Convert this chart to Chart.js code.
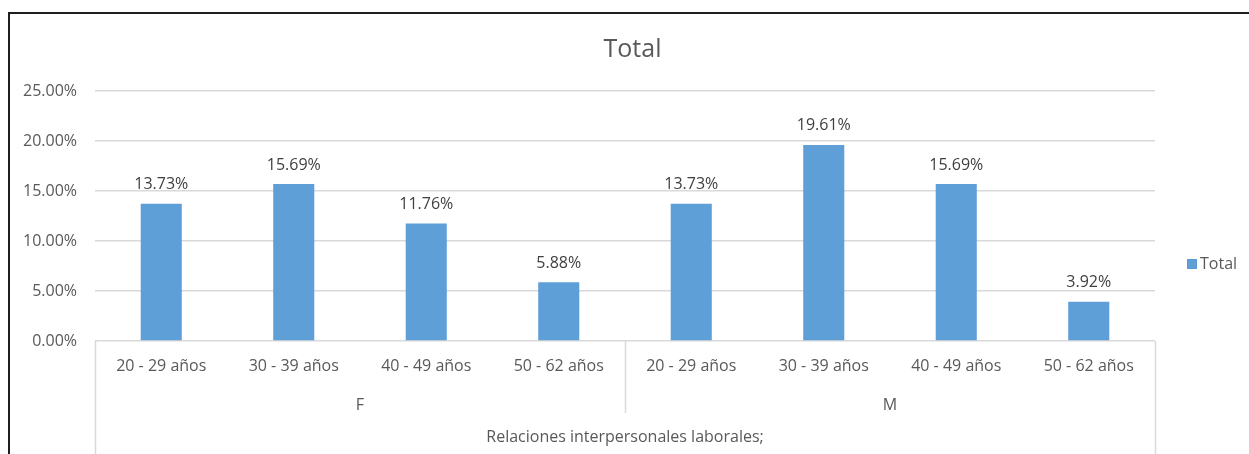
<!DOCTYPE html>
<html>
<head>
<meta charset="utf-8">
<script src="https://cdn.jsdelivr.net/npm/chart.js@4"></script>
<style>
  html, body { margin: 0; padding: 0; background: #fff; }
  #wrap { position: relative; width: 1249px; height: 454px; }
  #frame { position: absolute; left: 8px; top: 12px; right: 0; bottom: 0;
           border-top: 2px solid #1e1e1e; border-left: 2px solid #1e1e1e; pointer-events: none; }
</style>
</head>
<body>
<div id="wrap">
  <canvas id="chart" width="1249" height="454"></canvas>
  <div id="frame"></div>
</div>
<script>
const ageLabels = ['20 - 29 años', '30 - 39 años', '40 - 49 años', '50 - 62 años',
                   '20 - 29 años', '30 - 39 años', '40 - 49 años', '50 - 62 años'];
const groupLabels = ['F', 'M'];
const groupSize = 4;
const outerLabel = 'Relaciones interpersonales laborales;';
const totalValues = [13.73, 15.69, 11.76, 5.88, 13.73, 19.61, 15.69, 3.92];
const seriesName = 'Total';
const yTicks = [0, 5, 10, 15, 20, 25];

const FONT = '"Open Sans", sans-serif';
const TEXT = '#595959';
const GRID = '#d9d9d9';
const BAR = '#5f9fd8';

const extras = {
    id: 'extras',
    afterDatasetsDraw(chart) {
        const ctx = chart.ctx;
        const area = chart.chartArea;
        const x = chart.scales.x;
        const meta = chart.getDatasetMeta(0);

        // value labels above bars
        ctx.save();
        ctx.font = '16px ' + FONT;
        ctx.fillStyle = '#404040';
        ctx.textAlign = 'center';
        ctx.textBaseline = 'middle';
        meta.data.forEach((bar, i) => {
            ctx.fillText(totalValues[i].toFixed(2) + '%', bar.x, bar.y - 19);
        });

        // group separators and labels
        const bottom = chart.height;
        const edges = [area.left];
        for (let g = 1; g < groupLabels.length; g++) {
            const i = g * groupSize;
            edges.push((x.getPixelForValue(i - 1) + x.getPixelForValue(i)) / 2);
        }
        edges.push(area.right);

        ctx.strokeStyle = GRID;
        ctx.lineWidth = 1.5;
        edges.forEach((ex, k) => {
            const outer = k === 0 || k === edges.length - 1;
            ctx.beginPath();
            ctx.moveTo(Math.round(ex) + 0.5, area.bottom);
            ctx.lineTo(Math.round(ex) + 0.5, outer ? bottom : area.bottom + 72);
            ctx.stroke();
        });

        ctx.fillStyle = TEXT;
        ctx.font = '16px ' + FONT;
        groupLabels.forEach((g, k) => {
            ctx.fillText(g, (edges[k] + edges[k + 1]) / 2, area.bottom + 64);
        });
        ctx.fillText(outerLabel, (area.left + area.right) / 2, area.bottom + 96);

        // legend
        ctx.fillStyle = BAR;
        ctx.fillRect(area.right + 32, 259, 10, 10);
        ctx.fillStyle = TEXT;
        ctx.textAlign = 'left';
        ctx.fillText(seriesName, area.right + 45, 264);
        ctx.restore();
    }
};

new Chart(document.getElementById('chart'), {
    type: 'bar',
    data: {
        labels: ageLabels,
        datasets: [{
            label: seriesName,
            data: totalValues,
            backgroundColor: BAR,
            categoryPercentage: 1,
            barPercentage: 0.31
        }]
    },
    options: {
        responsive: false,
        animation: false,
        layout: { padding: { left: 16, right: 0, top: 0, bottom: 0 } },
        plugins: {
            legend: { display: false },
            tooltip: { enabled: false },
            title: {
                display: true,
                text: 'Total',
                color: TEXT,
                font: { family: FONT, size: 25, weight: 'normal' },
                padding: { top: 35, bottom: 26 }
            }
        },
        scales: {
            x: {
                grid: { display: false, drawTicks: false },
                border: { display: false },
                ticks: { color: TEXT, font: { family: FONT, size: 16 }, padding: 16, maxRotation: 0, autoSkip: false },
                afterFit(scale) { scale.height = 113; }
            },
            y: {
                min: 0,
                max: 25,
                afterBuildTicks(scale) { scale.ticks = yTicks.map(v => ({ value: v })); },
                grid: { color: GRID, lineWidth: 1.5, drawTicks: false },
                border: { display: false },
                ticks: {
                    color: TEXT,
                    font: { family: FONT, size: 16 },
                    padding: 18,
                    callback: v => v.toFixed(2) + '%'
                },
                afterFit(scale) { scale.width = 79; }
            },
            y2: {
                position: 'right',
                grid: { display: false, drawTicks: false },
                border: { display: false },
                ticks: { display: false },
                afterFit(scale) { scale.width = 94; }
            }
        }
    },
    plugins: [extras]
});
</script>
</body>
</html>
